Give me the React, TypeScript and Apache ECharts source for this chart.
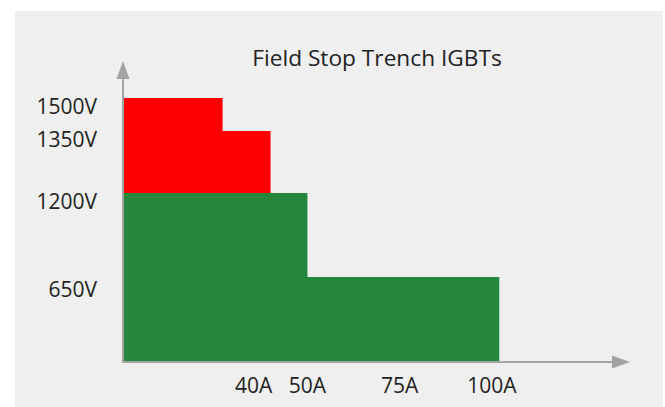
import React, { useEffect, useRef } from "react";
import * as echarts from "echarts";

const titleText = "Field Stop Trench IGBTs";
const voltageLabels = ["1500V", "1350V", "1200V", "650V"];
// schematic height of each voltage level (as drawn in the picture)
const voltageLevels = [264, 231, 169, 85];
// maximum current reach of each voltage class (A)
const currentReach = [27, 40, 50, 102];
const classColors = ["#ff0000", "#ff0000", "#24873b", "#24873b"];
const currentTicks = [40, 50, 75, 100];
const currentTickLabels = ["40A", "50A", "75A", "100A"];

const FONT = "'Open Sans'";
const LABEL_SIZE = 21;

export default function App() {
  const ref = useRef<HTMLDivElement>(null);
  useEffect(() => {
    if (!ref.current) return;
    const chart = echarts.init(ref.current, null, { renderer: "svg" });
    const data = voltageLabels.map((v, i) => ({
      name: v,
      value: [currentReach[i], voltageLevels[i]],
      itemStyle: { color: classColors[i] },
    }));
    chart.setOption({
      animation: false,
      backgroundColor: "#ffffff",
      graphic: [
        {
          type: "rect",
          z: -10,
          silent: true,
          shape: { x: 15, y: 11, width: 648, height: 400 },
          style: { fill: "#efefef" },
        },
      ],
      title: {
        text: titleText,
        left: 372,
        top: 41,
        textAlign: "center",
        textStyle: { fontFamily: FONT, fontSize: 22.7, fontWeight: "normal", color: "#222" },
      },
      grid: { left: 123, right: 44, top: 70, bottom: 45 },
      xAxis: {
        type: "value",
        z: 5,
        min: 0,
        max: 135,
        splitLine: { show: false },
        axisTick: { show: false },
        axisLine: {
          show: true,
          symbol: ["none", "triangle"],
          symbolSize: [13, 18],
          lineStyle: { color: "#a3a3a3", width: 2 },
        },
        axisLabel: {
          customValues: currentTicks,
          margin: 12,
          fontFamily: FONT,
          fontSize: LABEL_SIZE,
          color: "#222",
          formatter: (v: number) => {
            const i = currentTicks.indexOf(v);
            const t = i >= 0 ? currentTickLabels[i] : "";
            return i === 0 ? "{s|" + t + "}" : t;
          },
          rich: { s: { fontFamily: FONT, fontSize: LABEL_SIZE, color: "#222", padding: [0, 34, 0, 0] } },
        },
      },
      yAxis: {
        type: "value",
        z: 5,
        min: 0,
        max: 292,
        splitLine: { show: false },
        axisTick: { show: false },
        axisLine: {
          show: true,
          symbol: ["none", "triangle"],
          symbolSize: [13, 18],
          lineStyle: { color: "#a3a3a3", width: 2 },
        },
        axisLabel: {
          customValues: voltageLevels.slice().reverse(),
          margin: 26,
          verticalAlign: "top",
          lineHeight: 16,
          fontFamily: FONT,
          fontSize: LABEL_SIZE,
          color: "#222",
          formatter: (v: number) => {
            const i = voltageLevels.indexOf(v);
            const t = i >= 0 ? voltageLabels[i] : "";
            return i === 3 ? "{d|" + t + "}" : t;
          },
          rich: {
            d: { fontFamily: FONT, fontSize: LABEL_SIZE, lineHeight: 16, color: "#222", padding: [7, 0, 0, 0] },
          },
        },
      },
      series: [
        {
          type: "custom",
          z: 1,
          data,
          renderItem: (params: any, api: any) => {
            const x = api.value(0);
            const y = api.value(1);
            const p0 = api.coord([0, 0]);
            const p1 = api.coord([x, y]);
            return {
              type: "rect",
              shape: { x: p0[0], y: p1[1], width: p1[0] - p0[0], height: p0[1] - p1[1] },
              style: { fill: api.visual("color") },
            };
          },
        },
      ],
    });
    return () => chart.dispose();
  }, []);
  return (
    <div
      ref={ref}
      style={{ position: "fixed", left: 0, top: 0, width: 665, height: 407 }}
    />
  );
}
